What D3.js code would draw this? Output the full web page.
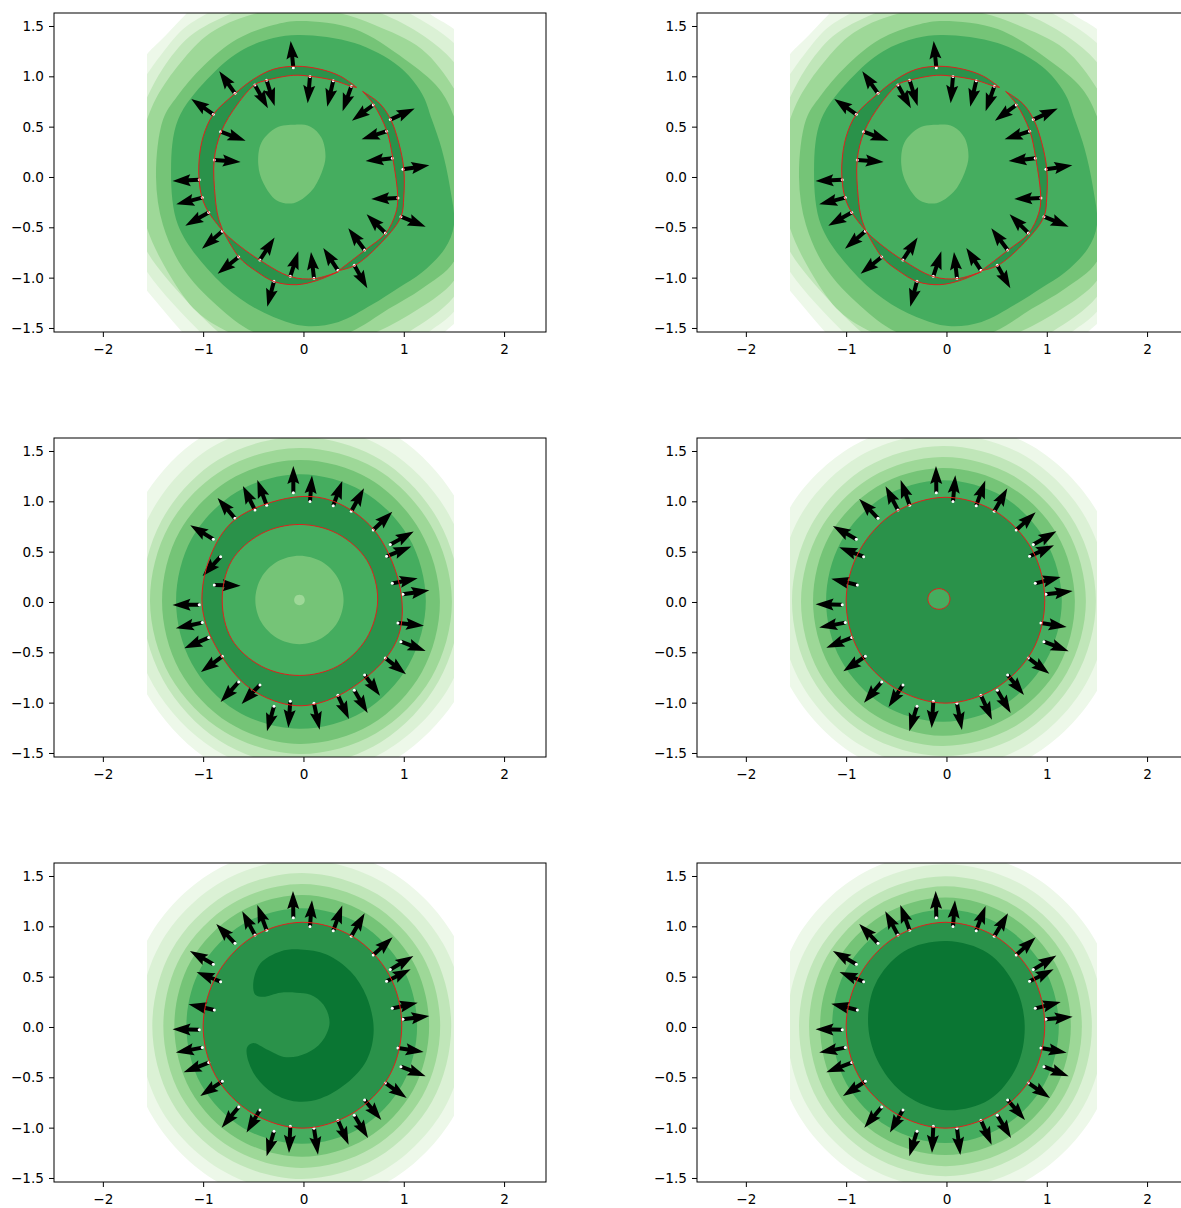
<!DOCTYPE html>
<html><head><meta charset="utf-8">
<script src="https://cdn.jsdelivr.net/npm/d3@7"></script>
<style>html,body{margin:0;padding:0;background:#fff;overflow:hidden}svg{display:block}text{font-family:"DejaVu Sans",sans-serif}</style>
</head><body><div id="chart"></div>
<script>
const fillColors = ["#edf8e9","#dbf1d5","#c0e6b9","#9ed898","#75c477","#45ad5f","#2a924a","#0a7633"];
const xTicks = [-2,-1,0,1,2];
const yTicks = [-1.5,-1,-0.5,0,0.5,1,1.5];
const xLimits = [-2.487,2.418];
const yLimits = [-1.54,1.629];
const gridX = [-1.56,1.50];

const pointsX = [-0.101,0.065,0.297,0.477,0.696,0.866,0.829,0.886,0.992,0.942,0.972,0.816,0.610,0.507,0.344,0.105,-0.131,-0.294,-0.434,-0.646,-0.809,-0.945,-1.009,-1.039,-0.889,-0.826,-0.899,-0.683,-0.484,-0.367];
const pointsY = [1.086,0.997,0.957,0.901,0.715,0.570,0.454,0.185,0.076,-0.209,-0.394,-0.556,-0.725,-0.877,-0.927,-1.007,-0.987,-1.036,-0.824,-0.795,-0.540,-0.354,-0.205,-0.027,0.169,0.450,0.623,0.831,0.914,0.960];

const arrowsTopU = [-8,-7,-18,-26,-64,73,-75,-80,79,-80,74,-56,-49,39,-44,-9,24,-20,44,-63,-61,-70,-78,-80,79,75,-66,-47,39,24];
const arrowsTopV = [80,-80,-78,-75,-47,33,-24,-8,12,-3,-30,56,65,-69,67,79,75,-76,67,-50,-52,-39,-20,-4,-6,-27,46,66,-70,-77];
const arrowsMidLeftU = [0,6,27,38,57,70,74,76,79,78,74,62,46,40,33,17,-6,-21,-55,-54,-64,-73,-79,-80,79,-54,-69,-52,-36,-28];
const arrowsMidLeftV = [80,78,74,69,55,39,29,15,12,-8,-28,-49,-62,-68,-71,-79,-79,-75,-57,-60,-47,-32,-17,-1,-2,-58,42,61,72,76];
const arrowsMidRightU = [-1,7,27,39,58,69,73,76,80,77,74,63,49,40,33,15,-5,-23,-43,-53,-66,-76,-78,-80,-78,-73,-70,-56,-37,-27];
const arrowsMidRightV = [80,79,75,69,53,40,33,19,10,-12,-29,-47,-60,-68,-73,-80,-80,-75,-66,-62,-45,-30,-15,1,19,28,40,58,71,76];
const arrowsLowLeftU = [-1,6,27,40,58,69,72,76,79,77,74,64,50,41,32,12,-4,-22,-40,-51,-66,-75,-79,-80,-77,-72,-70,-56,-38,-28];
const arrowsLowLeftV = [80,79,75,69,53,41,36,17,10,-12,-29,-45,-60,-68,-73,-79,-80,-75,-68,-62,-44,-29,-15,1,17,29,40,58,71,76];
const arrowsLowRightU = [-2,6,28,41,58,69,72,76,80,77,74,65,52,41,32,10,-4,-23,-39,-52,-67,-76,-78,-80,-78,-72,-70,-56,-38,-28];
const arrowsLowRightV = [80,79,74,69,53,42,36,19,8,-14,-29,-45,-60,-68,-73,-80,-80,-75,-68,-62,-44,-29,-15,1,19,29,40,58,71,76];

// Contour levels of the top row (outline points, data units)
const topLevel0 = [[-1.56,1.22],[-1.43,1.35],[-1.18,1.61],[-0.80,2.00],[0.03,2.33],[0.86,2.00],[1.25,1.63],[1.50,1.47],[2.03,1.00],[2.36,0],[2.03,-0.99],[1.50,-1.46],[1.41,-1.54],[1.03,-1.99],[0.03,-2.32],[-0.80,-1.99],[-1.21,-1.54],[-1.56,-1.13],[-1.96,-0.66],[-2.29,0],[-1.96,0.67]];
const topLevel1 = [[-1.56,1.02],[-1.43,1.20],[-1.20,1.47],[-0.95,1.63],[-0.47,1.90],[0.10,2.00],[0.63,1.83],[1.05,1.63],[1.50,1.33],[1.89,0.83],[2.03,0],[1.89,-0.73],[1.50,-1.34],[1.25,-1.54],[0.70,-1.92],[0.03,-2.09],[-0.63,-1.92],[-1.03,-1.54],[-1.56,-0.94],[-1.83,-0.40],[-1.89,0.17],[-1.79,0.67]];
const topLevel2 = [[-1.56,0.79],[-1.40,1.08],[-1.13,1.40],[-0.73,1.62],[-0.30,1.76],[0.23,1.76],[0.76,1.63],[1.20,1.40],[1.50,1.14],[1.79,0.67],[1.89,0],[1.79,-0.59],[1.50,-1.19],[1.05,-1.54],[0.53,-1.82],[-0.07,-1.89],[-0.53,-1.79],[-0.85,-1.54],[-1.23,-1.16],[-1.56,-0.74],[-1.73,-0.33],[-1.76,0.17],[-1.69,0.50]];
const topLevel3 = [[-1.56,0.57],[-1.46,0.80],[-1.23,1.13],[-0.93,1.43],[-0.53,1.61],[-0.03,1.68],[0.35,1.63],[0.71,1.51],[1.18,1.27],[1.50,0.88],[1.69,0.47],[1.76,0],[1.69,-0.59],[1.50,-1.03],[1.15,-1.31],[0.73,-1.54],[0.20,-1.72],[-0.30,-1.69],[-0.75,-1.54],[-1.06,-1.34],[-1.33,-0.98],[-1.56,-0.51],[-1.66,0],[-1.63,0.34]];
const topLevel4 = [[-0.03,1.55],[0.51,1.47],[1.01,1.17],[1.35,0.88],[1.50,0.60],[1.59,0.17],[1.63,-0.33],[1.50,-0.84],[1.18,-1.11],[0.85,-1.31],[0.47,-1.54],[0.03,-1.66],[-0.50,-1.54],[-0.86,-1.28],[-1.20,-0.91],[-1.40,-0.48],[-1.47,0],[-1.40,0.57],[-1.26,0.80],[-1.00,1.10],[-0.66,1.37],[-0.30,1.51]];
const topLevel5 = [[-0.03,1.41],[0.51,1.33],[0.95,1.10],[1.18,0.83],[1.28,0.57],[1.38,0.27],[1.46,-0.10],[1.50,-0.48],[1.41,-0.71],[1.18,-0.95],[0.95,-1.10],[0.68,-1.27],[0.35,-1.44],[0.02,-1.48],[-0.30,-1.39],[-0.63,-1.21],[-0.96,-0.91],[-1.25,-0.48],[-1.32,0.07],[-1.25,0.57],[-0.96,0.97],[-0.63,1.25],[-0.30,1.38]];
const topBlob = [[-0.08,0.52],[0.07,0.50],[0.18,0.39],[0.22,0.20],[0.18,0.04],[0.07,-0.15],[-0.10,-0.26],[-0.27,-0.23],[-0.40,-0.06],[-0.45,0.12],[-0.42,0.34],[-0.27,0.49]];
const crescentLeftOuter = [[0.53,0.89],[0.37,1.00],[0.17,1.07],[-0.07,1.10],[-0.30,1.07],[-0.50,0.97],[-0.68,0.83],[-0.90,0.62],[-1.00,0.40],[-1.04,0.17],[-1.04,-0.03],[-1.01,-0.21],[-0.94,-0.36],[-0.80,-0.54]];
const crescentLeftInner = [[-0.80,-0.54],[-0.85,-0.40],[-0.88,-0.20],[-0.89,0.17],[-0.82,0.45],[-0.66,0.72],[-0.48,0.92],[-0.37,0.96],[-0.10,1.01],[0.07,1.00],[0.30,0.96],[0.48,0.90],[0.53,0.89]];
const crescentLowOuter = [[-0.80,-0.54],[-0.64,-0.80],[-0.48,-0.93],[-0.29,-1.04],[-0.07,-1.07],[0.13,-1.03],[0.35,-0.94]];
const crescentLowInner = [[0.35,-0.94],[0.11,-1.01],[-0.13,-0.99],[-0.43,-0.83],[-0.63,-0.69],[-0.75,-0.59],[-0.80,-0.54]];
const crescentRightOuter = [[0.35,-0.93],[0.51,-0.88],[0.75,-0.68],[0.97,-0.40],[1.00,-0.20],[1.00,0.08],[0.95,0.34],[0.87,0.57],[0.76,0.73],[0.59,0.85]];
const crescentRightInner = [[0.59,0.85],[0.70,0.72],[0.83,0.46],[0.89,0.19],[0.94,-0.21],[0.92,-0.36],[0.82,-0.56],[0.61,-0.73],[0.35,-0.93]];

// Red boundary in the lower rows
const midLeftBoundary = [[-0.10,1.04],[0.30,1.00],[0.70,0.72],[0.95,0.20],[0.97,-0.25],[0.82,-0.56],[0.35,-0.93],[-0.07,-1.03],[-0.53,-0.86],[-0.88,-0.43],[-1.01,-0.03],[-0.93,0.45],[-0.68,0.82]];
const lowerBoundaryCenter = [-0.01,0.015];
const lowerBoundaryRadii = [0.99,1.0,1.015,1.025,1.01,0.99,0.99,1.0,1.005,1.02,1.005,1.0];
const lowLeftCore = [[-0.50,0.44],[-0.43,0.63],[-0.23,0.75],[-0.03,0.77],[0.23,0.72],[0.47,0.55],[0.63,0.30],[0.70,-0.03],[0.63,-0.33],[0.43,-0.56],[0.17,-0.71],[-0.07,-0.74],[-0.30,-0.66],[-0.47,-0.50],[-0.56,-0.30],[-0.56,-0.20],[-0.50,-0.16],[-0.37,-0.22],[-0.17,-0.30],[0.03,-0.26],[0.18,-0.15],[0.26,0.04],[0.20,0.22],[0.07,0.32],[-0.07,0.34],[-0.23,0.34],[-0.40,0.30],[-0.48,0.32]];

// Nearly round contours: radius every 30 degrees, counter-clockwise from +x
const midLeftCenter = [-0.04,0.01];
const midLeftRadii = [
 [1.86,1.86,1.90,1.88,1.90,1.86,1.84,1.78,1.82,1.86,1.84,1.84],
 [1.72,1.72,1.74,1.76,1.76,1.72,1.70,1.68,1.70,1.74,1.72,1.72],
 [1.60,1.60,1.62,1.63,1.62,1.59,1.57,1.57,1.60,1.64,1.62,1.60],
 [1.52,1.51,1.52,1.52,1.51,1.50,1.49,1.49,1.50,1.52,1.52,1.52],
 [1.40,1.39,1.40,1.40,1.39,1.38,1.37,1.38,1.40,1.42,1.42,1.41],
 [1.26,1.26,1.26,1.26,1.25,1.24,1.23,1.24,1.26,1.27,1.27,1.26]];
const midLeftInnerCenter = [-0.04,0.02];
const midLeftInnerRing = [0.78,0.78,0.76,0.75,0.76,0.78,0.77,0.78,0.76,0.75,0.76,0.77];
const midLeftDisc = [0.44,0.44,0.44,0.44,0.44,0.44,0.44,0.44,0.44,0.44,0.44,0.44];
const midLeftDot = [0.053,0.053,0.053,0.053,0.053,0.053,0.053,0.053,0.053,0.053,0.053,0.053];
const midRightCenter = [-0.04,0.01];
const midRightRadii = [
 [1.80,1.78,1.78,1.78,1.78,1.78,1.76,1.74,1.76,1.78,1.78,1.78],
 [1.65,1.65,1.66,1.66,1.66,1.65,1.63,1.63,1.65,1.67,1.66,1.65],
 [1.53,1.53,1.54,1.54,1.53,1.51,1.50,1.51,1.53,1.54,1.54,1.53],
 [1.43,1.43,1.43,1.43,1.42,1.41,1.41,1.42,1.43,1.44,1.44,1.43],
 [1.32,1.32,1.32,1.32,1.31,1.30,1.29,1.30,1.32,1.34,1.33,1.33],
 [1.19,1.19,1.20,1.20,1.19,1.17,1.16,1.17,1.19,1.20,1.20,1.19]];
const midRightHoleCenter = [-0.075,0.03];
const midRightHole = [0.11,0.108,0.104,0.103,0.104,0.108,0.11,0.108,0.104,0.103,0.104,0.108];
const lowLeftCenter = [-0.017,0.01];
const lowLeftRadii = [
 [1.76,1.76,1.77,1.77,1.77,1.76,1.75,1.74,1.76,1.78,1.77,1.76],
 [1.63,1.63,1.64,1.65,1.64,1.63,1.62,1.63,1.64,1.66,1.65,1.64],
 [1.49,1.50,1.51,1.52,1.51,1.50,1.49,1.50,1.51,1.52,1.51,1.50],
 [1.38,1.39,1.40,1.41,1.40,1.39,1.38,1.39,1.40,1.41,1.40,1.39],
 [1.27,1.28,1.29,1.30,1.29,1.28,1.27,1.28,1.29,1.30,1.29,1.28],
 [1.15,1.16,1.17,1.17,1.17,1.16,1.15,1.16,1.17,1.17,1.17,1.16]];
const lowRightCenter = [-0.01,0.007];
const lowRightRadii = [
 [1.72,1.72,1.73,1.74,1.73,1.72,1.71,1.71,1.72,1.74,1.73,1.72],
 [1.58,1.59,1.60,1.61,1.60,1.59,1.58,1.59,1.60,1.61,1.60,1.59],
 [1.46,1.47,1.48,1.49,1.48,1.47,1.46,1.47,1.48,1.49,1.48,1.47],
 [1.36,1.37,1.38,1.39,1.38,1.37,1.36,1.37,1.38,1.39,1.38,1.37],
 [1.25,1.26,1.27,1.28,1.27,1.26,1.25,1.26,1.27,1.28,1.27,1.26],
 [1.13,1.14,1.15,1.16,1.15,1.14,1.13,1.14,1.15,1.16,1.15,1.14]];
const lowRightCoreCenter = [0,0.013];
const lowRightCore = [0.78,0.79,0.83,0.84,0.85,0.82,0.78,0.77,0.80,0.84,0.85,0.81];

const radial = (center, radii) => radii.map((r,i) => {
  const a = i*Math.PI/6;
  return [center[0]+r*Math.cos(a), center[1]+r*Math.sin(a)];
});
const lowerBoundary = radial(lowerBoundaryCenter, lowerBoundaryRadii);

const topLayers = [topLevel0,topLevel1,topLevel2,topLevel3,topLevel4,topLevel5].map((p,i)=>({level:i,points:p}))
  .concat([{level:4,points:topBlob}]);
const topCrescents = [[crescentLeftOuter,crescentLeftInner],[crescentLowOuter,crescentLowInner],[crescentRightOuter,crescentRightInner]];

const ringLayers = (center, radii) => radii.map((r,i)=>({level:i,points:radial(center,r)}));

const panels = [
 {col:0,row:0,u:arrowsTopU,v:arrowsTopV,layers:topLayers,crescents:topCrescents,lines:[]},
 {col:1,row:0,u:arrowsTopU,v:arrowsTopV,layers:topLayers,crescents:topCrescents,lines:[]},
 {col:0,row:1,u:arrowsMidLeftU,v:arrowsMidLeftV,crescents:[],
  layers:ringLayers(midLeftCenter,midLeftRadii).concat([
   {level:6,points:midLeftBoundary},
   {level:5,points:radial(midLeftInnerCenter,midLeftInnerRing)},
   {level:4,points:radial(midLeftInnerCenter,midLeftDisc)},
   {level:3,points:radial(midLeftInnerCenter,midLeftDot)}]),
  lines:[midLeftBoundary,radial(midLeftInnerCenter,midLeftInnerRing)]},
 {col:1,row:1,u:arrowsMidRightU,v:arrowsMidRightV,crescents:[],
  layers:ringLayers(midRightCenter,midRightRadii).concat([
   {level:6,points:lowerBoundary},
   {level:5,points:radial(midRightHoleCenter,midRightHole)}]),
  lines:[lowerBoundary,radial(midRightHoleCenter,midRightHole)]},
 {col:0,row:2,u:arrowsLowLeftU,v:arrowsLowLeftV,crescents:[],
  layers:ringLayers(lowLeftCenter,lowLeftRadii).concat([
   {level:6,points:lowerBoundary},
   {level:7,points:lowLeftCore}]),
  lines:[lowerBoundary]},
 {col:1,row:2,u:arrowsLowRightU,v:arrowsLowRightV,crescents:[],
  layers:ringLayers(lowRightCenter,lowRightRadii).concat([
   {level:6,points:lowerBoundary},
   {level:7,points:radial(lowRightCoreCenter,lowRightCore)}]),
  lines:[lowerBoundary]}
];

const W=1181,H=1208, axW=492, axH=319;
const colLeft=[54,697], rowTop=[13,438,863];
const svg=d3.select("#chart").append("svg").attr("width",W).attr("height",H);
const arrowLen=d3.scaleLinear().domain([0,80]).range([0,26.7]);
const shaft=4, headW=12, headL=18, headA=16;

panels.forEach((p,idx)=>{
  const g=svg.append("g").attr("transform",`translate(${colLeft[p.col]},${rowTop[p.row]})`);
  const x=d3.scaleLinear().domain(xLimits).range([0,axW]);
  const y=d3.scaleLinear().domain(yLimits).range([axH,0]);
  const clipId=`grid${idx}`;
  g.append("clipPath").attr("id",clipId).append("rect")
    .attr("x",x(gridX[0])).attr("y",0).attr("width",x(gridX[1])-x(gridX[0])).attr("height",axH);
  const ring=d3.line().x(d=>x(d[0])).y(d=>y(d[1])).curve(d3.curveCatmullRomClosed.alpha(0.5));
  const open=d3.line().x(d=>x(d[0])).y(d=>y(d[1])).curve(d3.curveCatmullRom.alpha(0.5));
  const fills=g.append("g").attr("clip-path",`url(#${clipId})`);
  fills.selectAll("path.lvl").data(p.layers).join("path").attr("class","lvl")
    .attr("d",d=>ring(d.points)).attr("fill",d=>fillColors[d.level]);
  const cresPath=c=>open(c[0])+"L"+open(c[1]).slice(1)+"Z";
  fills.selectAll("path.cres").data(p.crescents).join("path").attr("class","cres")
    .attr("d",cresPath).attr("fill",fillColors[6]);

  const arrows=g.append("g");
  d3.range(pointsX.length).forEach(i=>{
    const px=x(pointsX[i]),py=y(pointsY[i]);
    const mag=Math.hypot(p.u[i],p.v[i]);
    const L=arrowLen(mag), ang=Math.atan2(-p.v[i],p.u[i])*180/Math.PI;
    const shape=[[0,-shaft/2],[L-headA,-shaft/2],[L-headL,-headW/2],[L,0],[L-headL,headW/2],[L-headA,shaft/2],[0,shaft/2]];
    arrows.append("polygon").attr("points",shape.join(" "))
      .attr("transform",`translate(${px},${py}) rotate(${ang})`).attr("fill","#000");
  });
  g.append("g").selectAll("circle").data(d3.range(pointsX.length)).join("circle")
    .attr("cx",i=>x(pointsX[i])).attr("cy",i=>y(pointsY[i])).attr("r",1.5).attr("fill","#fff");
  const redLines=g.append("g").attr("fill","none").attr("stroke","#e0201c").attr("stroke-width",1);
  redLines.selectAll("path.l").data(p.lines).join("path").attr("class","l").attr("d",ring);
  redLines.selectAll("path.c").data(p.crescents).join("path").attr("class","c").attr("d",cresPath);

  const fmtY=d3.format(".1f");
  const ax=g.append("g").attr("transform",`translate(0,${axH})`).call(d3.axisBottom(x).tickValues(xTicks).tickSize(5).tickPadding(7).tickFormat(d3.format("d")));
  const ay=g.append("g").call(d3.axisLeft(y).tickValues(yTicks).tickSize(5).tickPadding(5).tickFormat(fmtY));
  [ax,ay].forEach(a=>{a.selectAll("text").attr("font-size",13.6).attr("fill","#000").style("font-family",'"DejaVu Sans"');
    a.selectAll("line").attr("stroke","#000").attr("stroke-width",1);a.select(".domain").remove();});
  g.append("rect").attr("x",0).attr("y",0).attr("width",axW).attr("height",axH).attr("fill","none").attr("stroke","#000").attr("stroke-width",1);
});
</script></body></html>
